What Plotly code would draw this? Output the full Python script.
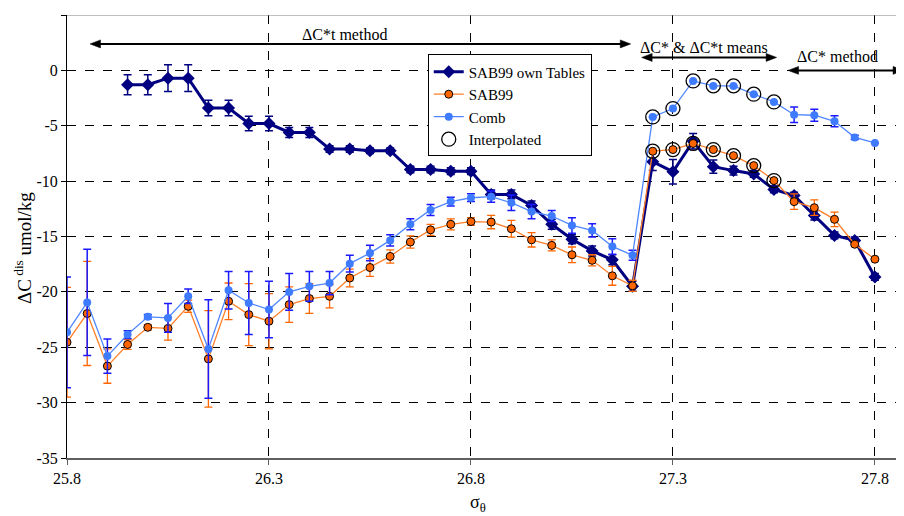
import plotly.graph_objects as go

sigma = [25.80, 25.85, 25.90, 25.95, 26.00, 26.05, 26.10, 26.15, 26.20, 26.25,
         26.30, 26.35, 26.40, 26.45, 26.50, 26.55, 26.60, 26.65, 26.70, 26.75,
         26.80, 26.85, 26.90, 26.95, 27.00, 27.05, 27.10, 27.15, 27.20, 27.25,
         27.30, 27.35, 27.40, 27.45, 27.50, 27.55, 27.60, 27.65, 27.70, 27.75,
         27.80]

own_tables = [None, None, None, -1.3, -1.3, -0.7, -0.7, -3.4, -3.4, -4.8,
              -4.8, -5.6, -5.6, -7.1, -7.1, -7.25, -7.25, -8.95, -8.95, -9.1,
              -9.1, -11.2, -11.2, -12.2, -13.9, -15.25, -16.3, -17.1, -19.5, -8.25,
              -9.15, -6.4, -8.7, -9.05, -9.35, -10.75, -11.3, -13.1, -14.9, -15.35,
              -18.65]
own_tables_err = [0, 0, 0, 0.9, 0.9, 1.2, 1.2, 0.7, 0.7, 0.65,
                  0.65, 0.45, 0.45, 0.3, 0.3, 0.25, 0.25, 0.3, 0.3, 0.3,
                  0.3, 0.4, 0.4, 0.4, 0.45, 0.4, 0.45, 0.45, 0.45, 0.8,
                  1.1, 0.7, 0.6, 0.4, 0.3, 0.3, 0.3, 0.4, 0.3, 0.3,
                  0.3]

sab99 = [-24.55, -21.95, -26.7, -24.75, -23.2, -23.3, -21.3, -26.05, -20.85, -22.05,
         -22.65, -21.15, -20.6, -20.4, -18.75, -17.8, -16.8, -15.5, -14.4, -13.9,
         -13.65, -13.7, -14.3, -15.3, -15.8, -16.65, -17.15, -18.55, -19.45, -7.3,
         -7.15, -6.6, -7.15, -7.7, -8.6, -9.95, -11.85, -12.4, -13.45, -15.7,
         -17.05]
sab99_err = [4.95, 4.7, 1.55, 0.45, 0.25, 1.05, 0.55, 4.35, 1.65, 2.8,
             2.5, 1.6, 1.35, 1.05, 0.8, 0.8, 0.6, 0.55, 0.5, 0.5,
             0.35, 0.6, 0.75, 0.65, 0.5, 0.7, 0.5, 0.85, 0.5, 0,
             0, 0, 0, 0, 0, 0, 0.7, 0.7, 0.65, 0.2,
             0]

comb = [-23.65, -20.95, -25.8, -23.85, -22.25, -22.35, -20.4, -25.15, -19.85, -21.0,
        -21.6, -20.0, -19.5, -19.2, -17.45, -16.5, -15.35, -13.9, -12.6, -11.85,
        -11.5, -11.4, -11.95, -12.75, -13.15, -14.0, -14.45, -15.9, -16.7, -4.2,
        -3.45, -0.95, -1.4, -1.4, -2.15, -2.85, -4.0, -4.05, -4.6, -6.05,
        -6.55]
comb_err = [5.0, 4.8, 1.55, 0.35, 0.2, 1.3, 0.65, 4.45, 1.7, 2.85,
            2.55, 1.65, 1.35, 1.05, 0.75, 0.7, 0.5, 0.5, 0.5, 0.4,
            0.35, 0.5, 0.7, 0.65, 0.5, 0.7, 0.6, 0.7, 0.45, 0,
            0, 0, 0, 0, 0, 0, 0.7, 0.55, 0.5, 0.2,
            0]

interpolated_idx = [29, 30, 31, 32, 33, 34, 35]

x_ticks = [25.8, 26.3, 26.8, 27.3, 27.8]
y_ticks = [5, 0, -5, -10, -15, -20, -25, -30, -35]

FONT = "'Liberation Serif', 'Times New Roman', Times, serif"

fig = go.Figure()

fig.add_trace(go.Scatter(
    x=sigma, y=own_tables, name="SAB99 own Tables", mode="lines+markers",
    line=dict(color="#000080", width=3),
    marker=dict(symbol="diamond", size=10, color="#000080"),
    error_y=dict(type="data", array=own_tables_err, color="#000080", thickness=1.5, width=4),
    connectgaps=False,
))
fig.add_trace(go.Scatter(
    x=sigma, y=sab99, name="SAB99", mode="lines+markers",
    line=dict(color="#FF7F27", width=1.3),
    marker=dict(symbol="circle", size=8, color="#FF6600", line=dict(color="black", width=1)),
    error_y=dict(type="data", array=sab99_err, color="#FF6600", thickness=1.3, width=4),
))
fig.add_trace(go.Scatter(
    x=sigma, y=comb, name="Comb", mode="lines+markers",
    line=dict(color="#4F86FF", width=1.3),
    marker=dict(symbol="circle", size=8, color="#3F7BFF"),
    error_y=dict(type="data", array=comb_err, color="#1A1AFF", thickness=1.5, width=4),
))

ix = [sigma[i] for i in interpolated_idx] + [sigma[i] for i in interpolated_idx]
iy = [comb[i] for i in interpolated_idx] + [sab99[i] for i in interpolated_idx]
fig.add_trace(go.Scatter(
    x=ix, y=iy, name="Interpolated", mode="markers",
    marker=dict(symbol="circle-open", size=14, color="black", line=dict(width=1.3)),
))

# top border of plot area
fig.add_shape(type="line", xref="paper", yref="y", x0=0, x1=1, y0=5, y1=5,
              line=dict(color="#808080", width=1))

# method arrows (double headed): line + filled triangular heads
HEAD_DX = 0.026   # ~10.5 px along x
HEAD_DY = 0.36    # ~4 px half-width along y
arrows = [
    (25.857, 27.1955, 2.39),
    (27.2225, 27.5567, 1.17),
    (27.585, 27.871, 0.0),
]
for x0, x1, yv in arrows:
    fig.add_shape(type="line", xref="x", yref="y", x0=x0 + HEAD_DX * 0.5, x1=x1 - HEAD_DX * 0.5,
                  y0=yv, y1=yv, line=dict(color="black", width=2))
    left = f"M {x0},{yv} L {x0 + HEAD_DX},{yv + HEAD_DY} L {x0 + HEAD_DX},{yv - HEAD_DY} Z"
    right = f"M {x1},{yv} L {x1 - HEAD_DX},{yv + HEAD_DY} L {x1 - HEAD_DX},{yv - HEAD_DY} Z"
    for p in (left, right):
        fig.add_shape(type="path", xref="x", yref="y", path=p,
                      fillcolor="black", line=dict(color="black", width=0.5))

labels = [
    ("ΔC*t method", 26.488, 3.24),
    ("ΔC* & ΔC*t means", 27.3767, 2.10),
    ("ΔC* method", 27.7084, 1.24),
]
for txt, xv, yv in labels:
    fig.add_annotation(x=xv, y=yv, xref="x", yref="y", text=txt, showarrow=False,
                       font=dict(family=FONT, size=16, color="black"),
                       xanchor="center", yanchor="middle")

# axis titles
fig.add_annotation(x=-0.0526, y=0.474, xref="paper", yref="paper",
                   text="ΔC<sup> dis</sup> umol/kg", textangle=-90, showarrow=False,
                   font=dict(family=FONT, size=19, color="black"),
                   xanchor="center", yanchor="middle")
fig.add_annotation(x=0.491, y=-0.102, xref="paper", yref="paper",
                   text="σ<sub>θ</sub>", showarrow=False,
                   font=dict(family=FONT, size=18, color="black"),
                   xanchor="center", yanchor="middle")

# page body has an 8px margin: size the figure so the plot lands where the reference has it
fig.update_layout(
    width=896, height=508,
    margin=dict(l=59, r=0, t=7, b=58),
    plot_bgcolor="white", paper_bgcolor="white",
    font=dict(family=FONT, size=16, color="black"),
    showlegend=True,
    legend=dict(x=0.431, y=0.911, xanchor="left", yanchor="top",
                bgcolor="white", bordercolor="black", borderwidth=1,
                font=dict(family=FONT, size=15, color="black"),
                tracegroupgap=0),
)
fig.update_xaxes(
    range=[25.8, 27.872], tickvals=x_ticks, ticktext=[f"{v:.1f}" for v in x_ticks],
    showgrid=True, gridcolor="black", griddash="dash", gridwidth=1,
    showline=True, linecolor="#606060", linewidth=2,
    ticks="outside", ticklen=5, tickcolor="#606060",
    zeroline=False, tickfont=dict(family=FONT, size=16),
)
fig.update_yaxes(
    range=[-35, 5], tickvals=y_ticks, ticktext=[str(v) for v in y_ticks],
    showgrid=True, gridcolor="black", griddash="dash", gridwidth=1,
    showline=True, linecolor="black", linewidth=1,
    ticks="outside", ticklen=5, tickcolor="black",
    zeroline=False, tickfont=dict(family=FONT, size=16),
)

fig.write_html("out.html")
